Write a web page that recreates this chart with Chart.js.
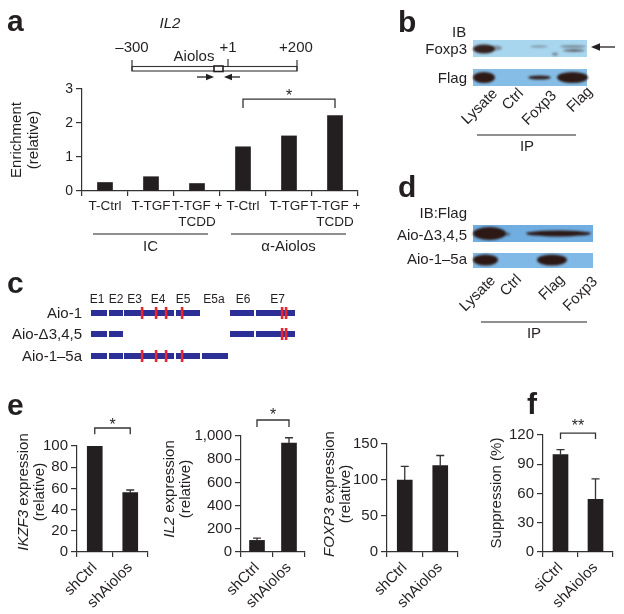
<!DOCTYPE html>
<html>
<head>
<meta charset="utf-8">
<script src="https://cdn.jsdelivr.net/npm/chart.js@4.4.1/dist/chart.umd.min.js"></script>
<style>
  body { margin: 0; background: #fff; }
  #wrap { position: relative; width: 624px; height: 614px; overflow: hidden; background: #fff; }
  #wrap canvas { position: absolute; }
</style>
</head>
<body>
<div id="wrap"><canvas id="bg" width="624" height="614" style="left:0;top:0"></canvas></div>
<script>
// ---- data ----
const enrichLabels = ['T-Ctrl', 'T-TGF', ['T-TGF +', 'TCDD'], 'T-Ctrl', 'T-TGF', ['T-TGF +', 'TCDD']];
const enrichValues = [0.25, 0.42, 0.22, 1.3, 1.62, 2.22];
const enrichGroups = ['IC', 'α-Aiolos'];

const shLabels = ['shCtrl', 'shAiolos'];
const ikzf3Values = [100, 56];
const ikzf3Err = [0, 2.5];
const il2Values = [100, 940];
const il2Err = [20, 45];
const foxp3Values = [100, 120];
const foxp3Err = [19, 14];

const suppLabels = ['siCtrl', 'shAiolos'];
const suppValues = [100, 54];
const suppErr = [5, 21];

// axis max / step for each panel
const enrichAxis = [3, 1];
const ikzf3Axis = [100, 20];
const il2Axis = [1000, 200];
const foxp3Axis = [150, 50];
const suppAxis = [120, 30];

const F = '"Liberation Sans", Arial, Helvetica, sans-serif';
const TXT = '#231f20';
const AX = '#333';
const BAR = '#231f20';

const wrap = document.getElementById('wrap');
const bg = document.getElementById('bg').getContext('2d');

// ---- helpers for the static parts ----
function text(s, x, y, size, opts = {}) {
  bg.save();
  bg.fillStyle = opts.color || TXT;
  bg.font = (opts.bold ? 'bold ' : '') + (opts.italic ? 'italic ' : '') + size + 'px ' + F;
  bg.textAlign = opts.align || 'left';
  bg.textBaseline = opts.base || 'alphabetic';
  bg.translate(x, y);
  if (opts.rot) bg.rotate(opts.rot);
  bg.fillText(s, 0, 0);
  bg.restore();
}

// rotated (-90deg) rich text, centered on cx, cy
function vtitle(parts, cx, cy, size) {
  bg.save();
  bg.translate(cx, cy);
  bg.rotate(-Math.PI / 2);
  bg.fillStyle = TXT;
  bg.textBaseline = 'middle';
  let total = 0;
  parts.forEach(p => {
    bg.font = (p.i ? 'italic ' : '') + size + 'px ' + F;
    p.w = bg.measureText(p.t).width;
    total += p.w;
  });
  let x = -total / 2;
  parts.forEach(p => {
    bg.font = (p.i ? 'italic ' : '') + size + 'px ' + F;
    bg.textAlign = 'left';
    bg.fillText(p.t, x, 0);
    x += p.w;
  });
  bg.restore();
}

function line(x1, y1, x2, y2, w = 1.2, c = AX) {
  bg.save();
  bg.strokeStyle = c;
  bg.lineWidth = w;
  bg.beginPath();
  bg.moveTo(x1, y1);
  bg.lineTo(x2, y2);
  bg.stroke();
  bg.restore();
}

function arrow(x1, y, x2, head) {
  line(x1, y, x2, y, 1.3, TXT);
  const d = x2 > x1 ? 1 : -1;
  bg.save();
  bg.fillStyle = TXT;
  bg.beginPath();
  bg.moveTo(x2 + d * 2, y);
  bg.lineTo(x2 - d * head, y - head * 0.55);
  bg.lineTo(x2 - d * head, y + head * 0.55);
  bg.closePath();
  bg.fill();
  bg.restore();
}

function blot(x1, y1, x2, y2, col) {
  bg.save();
  bg.fillStyle = col;
  bg.fillRect(x1, y1, x2 - x1, y2 - y1);
  bg.restore();
}

function band(x1, x2, yc, h, a) {
  bg.save();
  bg.filter = 'blur(1px)';
  bg.fillStyle = 'rgba(42,18,12,' + a + ')';
  bg.beginPath();
  bg.ellipse((x1 + x2) / 2, yc, (x2 - x1) / 2, h / 2, 0, 0, Math.PI * 2);
  bg.fill();
  bg.restore();
}

// ---- panel letters ----
text('a', 7, 31, 30, { bold: true });
text('b', 398, 32, 30, { bold: true });
text('c', 7, 293, 30, { bold: true });
text('d', 398, 197, 30, { bold: true });
text('e', 7, 415, 30, { bold: true });
text('f', 527, 414, 30, { bold: true });

// ---- panel a schematic ----
text('IL2', 170, 28, 15, { italic: true, align: 'center' });
text('–300', 132, 52, 15, { align: 'center' });
text('+1', 228, 52, 15, { align: 'center' });
text('+200', 296, 52, 15, { align: 'center' });
text('Aiolos', 194, 61, 15, { align: 'center' });
bg.save();
bg.strokeStyle = AX; bg.lineWidth = 1.1;
bg.strokeRect(132, 66.5, 165, 4.5);
bg.restore();
line(132, 60, 132, 71);
line(297, 60, 297, 71);
line(228, 59, 228, 67);
bg.save();
bg.fillStyle = '#fff'; bg.fillRect(214, 66, 9, 5.5);
bg.strokeStyle = TXT; bg.lineWidth = 1.6; bg.strokeRect(214, 66, 9, 5.5);
bg.restore();
arrow(197, 77, 212, 6);
arrow(240, 77, 226, 6);

// ---- panel a y title ----
vtitle([{ t: 'Enrichment' }], 17, 140, 15);
vtitle([{ t: '(relative)' }], 34, 140, 15);

// ---- panel b ----
text('IB', 452, 37, 15);
text('Foxp3', 467, 54, 15, { align: 'right' });
text('Flag', 467, 83, 15, { align: 'right' });
blot(473, 40, 587, 57, '#a9d6ef');
band(473, 495, 49, 9, 0.92);
band(490, 502, 48, 5, 0.35);
band(530, 548, 46.5, 1.6, 0.45);
band(560, 586, 46.5, 1.8, 0.5);
band(563, 585, 50.5, 2.4, 0.65);
band(552, 558, 54, 3, 0.4);
arrow(615, 47, 593, 7);
blot(473, 69, 587, 86, '#86bde6');
band(473, 495, 77.5, 11, 0.96);
band(528, 551, 77.5, 4, 0.92);
band(557, 588, 77.5, 11, 0.96);
[['Lysate', 490, 86], ['Ctrl', 516, 86], ['Foxp3', 549, 88], ['Flag', 585, 84]].forEach(l =>
  text(l[0], l[1], l[2], 15, { align: 'right', base: 'top', rot: -Math.PI / 4 }));
line(477, 135, 576, 135, 1.2, TXT);
text('IP', 527, 151, 15, { align: 'center' });

// ---- panel d ----
text('IB:Flag', 467, 218, 15, { align: 'right' });
text('Aio-Δ3,4,5', 467, 240, 15, { align: 'right' });
text('Aio-1–5a', 467, 264, 15, { align: 'right' });
blot(473, 225, 593, 242, '#70ade0');
band(473, 506, 233.5, 13, 0.96);
band(504, 510, 234, 3, 0.5);
band(526, 591, 233.5, 6, 0.96);
blot(473, 253, 593, 268, '#80b8e6');
band(473, 498, 260, 11, 0.96);
band(537, 567, 260, 11, 0.96);
[['Lysate', 488, 273], ['Ctrl', 514, 272], ['Flag', 557, 272], ['Foxp3', 590, 274]].forEach(l =>
  text(l[0], l[1], l[2], 15, { align: 'right', base: 'top', rot: -Math.PI / 4 }));
line(481, 322, 587, 322, 1.2, TXT);
text('IP', 534, 338, 15, { align: 'center' });

// ---- panel c (exon schematic) ----
const BLUE = '#2b2f96', RED = '#e8262e';
[['E1', 97], ['E2', 116], ['E3', 134.5], ['E4', 158], ['E5', 183], ['E5a', 214], ['E6', 243], ['E7', 277.5]]
  .forEach(e => text(e[0], e[1], 303, 12, { align: 'center' }));
const isoforms = [
  ['Aio-1', 313, [[91, 107], [109, 123], [124, 174], [176, 200], [230, 254], [256, 295]], [142, 156, 166, 182, 282, 286]],
  ['Aio-Δ3,4,5', 334, [[91, 107], [109, 123], [230, 254], [256, 295]], [282, 286]],
  ['Aio-1–5a', 356, [[91, 107], [109, 123], [124, 174], [176, 200], [202, 228]], [142, 156, 166, 182]]
];
isoforms.forEach(r => {
  text(r[0], 82, r[1] + 5, 15, { align: 'right' });
  bg.fillStyle = BLUE;
  r[2].forEach(s => bg.fillRect(s[0], r[1] - 3, s[1] - s[0], 6));
  bg.fillStyle = RED;
  r[3].forEach(x => bg.fillRect(x - 1.2, r[1] - 6, 2.6, 12));
});

// ---- y titles for e / f ----
vtitle([{ t: 'IKZF3', i: true }, { t: ' expression' }], 24, 492, 15);
vtitle([{ t: '(relative)' }], 40, 492, 15);
vtitle([{ t: 'IL2', i: true }, { t: ' expression' }], 170, 489, 15);
vtitle([{ t: '(relative)' }], 186, 489, 15);
vtitle([{ t: 'FOXP3', i: true }, { t: ' expression' }], 330, 494, 15);
vtitle([{ t: '(relative)' }], 346, 494, 15);
vtitle([{ t: 'Suppression (%)' }], 497, 493, 15);

// ---- charts ----
function marks(err, br) {
  return {
    id: 'marks',
    afterDatasetsDraw(chart) {
      const ctx = chart.ctx, xs = chart.scales.x, ys = chart.scales.y;
      const vals = chart.data.datasets[0].data;
      ctx.save();
      ctx.strokeStyle = AX;
      ctx.lineWidth = 1.3;
      if (err) err.forEach((e, i) => {
        if (!e) return;
        const x = xs.getPixelForValue(i);
        const y0 = ys.getPixelForValue(vals[i]);
        const y1 = ys.getPixelForValue(vals[i] + e);
        ctx.beginPath();
        ctx.moveTo(x, y0); ctx.lineTo(x, y1);
        ctx.moveTo(x - 4, y1); ctx.lineTo(x + 4, y1);
        ctx.stroke();
      });
      if (br) {
        const x1 = xs.getPixelForValue(br.from), x2 = xs.getPixelForValue(br.to);
        const yt = ys.getPixelForValue(br.top), yl = ys.getPixelForValue(br.leg);
        ctx.beginPath();
        ctx.moveTo(x1, yl); ctx.lineTo(x1, yt); ctx.lineTo(x2, yt); ctx.lineTo(x2, yl);
        ctx.stroke();
        ctx.fillStyle = TXT;
        ctx.font = br.size + 'px ' + F;
        ctx.textAlign = 'center';
        ctx.textBaseline = 'alphabetic';
        ctx.fillText(br.star, (x1 + x2) / 2, ys.getPixelForValue(br.starAt) + 0.57 * br.size);
      }
      ctx.restore();
    }
  };
}

function barOptions(axis, size, xsize, rot, fmt) {
  return {
    responsive: false,
    animation: false,
    devicePixelRatio: 1,
    plugins: { legend: { display: false }, tooltip: { enabled: false } },
    scales: {
      x: {
        grid: { offset: true, drawOnChartArea: false, tickLength: 5, color: AX, lineWidth: 1.2 },
        border: { color: AX, width: 1.2 },
        ticks: { color: TXT, font: { family: F, size: xsize }, padding: 2, autoSkip: false, minRotation: rot, maxRotation: rot }
      },
      y: {
        min: 0, max: axis[0],
        grid: { drawOnChartArea: false, tickLength: 6, color: AX, lineWidth: 1.2 },
        border: { color: AX, width: 1.2 },
        ticks: { stepSize: axis[1], color: TXT, font: { family: F, size: size }, padding: 3, callback: fmt || (v => v.toLocaleString('en-US')) }
      }
    }
  };
}

function addChart(area, W, H, pt, pr, labels, values, options, plugins) {
  const left = area.l - W, top = area.t - pt;
  const w = area.r + pr - left, h = area.b + H - top;
  const c = document.createElement('canvas');
  c.width = w; c.height = h;
  c.style.left = left + 'px'; c.style.top = top + 'px';
  c.style.width = w + 'px'; c.style.height = h + 'px';
  wrap.appendChild(c);
  options.layout = { padding: { top: pt, right: pr, left: 0, bottom: 0 } };
  options.scales.y.afterFit = s => { s.width = W; };
  options.scales.x.afterFit = s => { s.height = H; };
  return new Chart(c, {
    type: 'bar',
    data: { labels: labels, datasets: [{ data: values, backgroundColor: BAR, barThickness: 15, borderWidth: 0 }] },
    options: options,
    plugins: plugins
  });
}

// panel a
const groupPlugin = {
  id: 'groups',
  afterDraw(chart) {
    const ctx = chart.ctx, xs = chart.scales.x, b = chart.chartArea.bottom;
    [[0, 2], [3, 5]].forEach((g, i) => {
      const x1 = xs.getPixelForValue(g[0]) - 12, x2 = xs.getPixelForValue(g[1]) + 11;
      ctx.save();
      ctx.strokeStyle = TXT; ctx.lineWidth = 1.2;
      ctx.beginPath(); ctx.moveTo(x1, b + 43); ctx.lineTo(x2, b + 43); ctx.stroke();
      ctx.fillStyle = TXT; ctx.font = '15px ' + F; ctx.textAlign = 'center';
      ctx.fillText(enrichGroups[i], (x1 + x2) / 2, b + 60);
      ctx.restore();
    });
  }
};
addChart({ l: 82, t: 89, r: 358, b: 191 }, 40, 72, 25, 8, enrichLabels, enrichValues,
  barOptions(enrichAxis, 14, 13.5, 0),
  [marks(null, { from: 3, to: 5, top: 2.7, leg: 2.44, starAt: 2.93, star: '*', size: 16 }), groupPlugin]);

// panel e
addChart({ l: 77, t: 446, r: 148, b: 552 }, 40, 62, 40, 6, shLabels, ikzf3Values,
  barOptions(ikzf3Axis, 15, 15, 45),
  [marks(ikzf3Err, { from: 0, to: 1, top: 117, leg: 111, starAt: 124, star: '*', size: 16 })]);
addChart({ l: 241, t: 436, r: 305, b: 552 }, 55, 62, 40, 6, shLabels, il2Values,
  barOptions(il2Axis, 15, 15, 45),
  [marks(il2Err, { from: 0, to: 1, top: 1138, leg: 1078, starAt: 1216, star: '*', size: 16 })]);
addChart({ l: 387, t: 444, r: 458, b: 552 }, 40, 62, 30, 6, shLabels, foxp3Values,
  barOptions(foxp3Axis, 15, 15, 45),
  [marks(foxp3Err, null)]);

// panel f
addChart({ l: 543, t: 435, r: 613, b: 552 }, 40, 62, 40, 6, suppLabels, suppValues,
  barOptions(suppAxis, 15, 15, 45),
  [marks(suppErr, { from: 0, to: 1, top: 122, leg: 116, starAt: 133, star: '**', size: 16 })]);
</script>
</body>
</html>
